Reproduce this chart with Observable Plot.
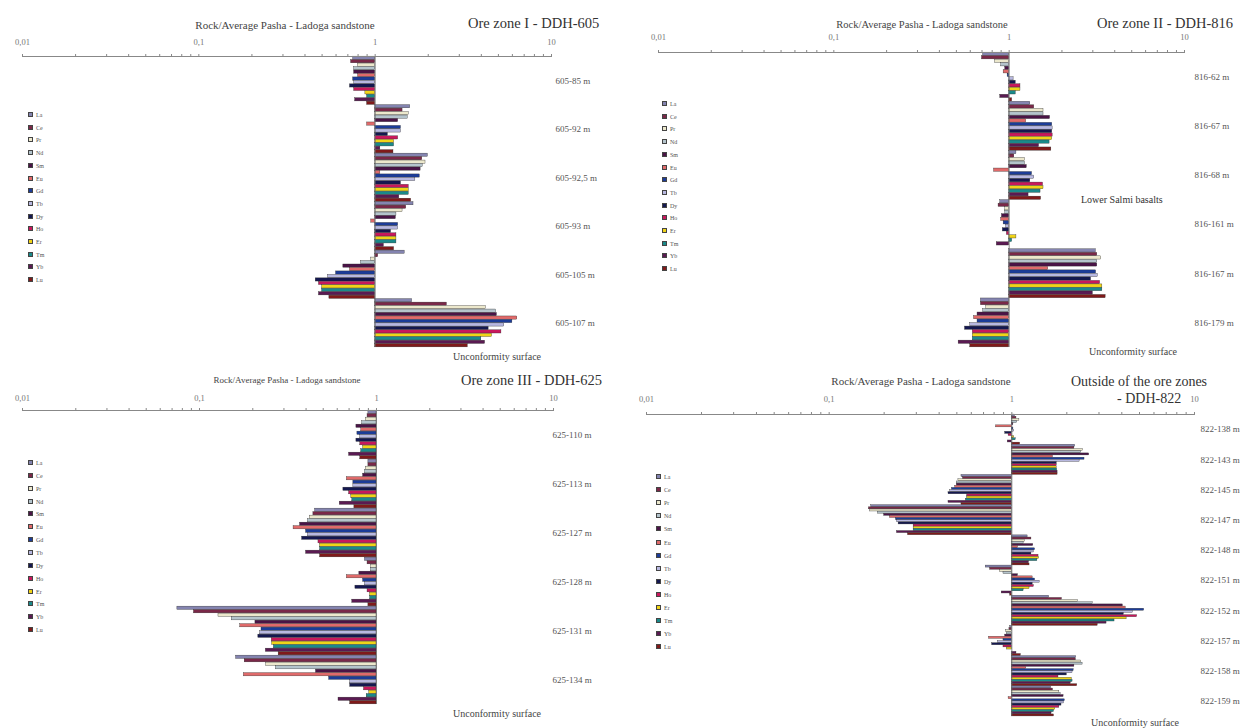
<!DOCTYPE html>
<html><head><meta charset="utf-8">
<script src="https://cdn.jsdelivr.net/npm/d3@7"></script>
<script src="https://cdn.jsdelivr.net/npm/@observablehq/plot@0.6"></script>
<style>
body{margin:0;background:#fff;}
#root{position:relative;width:1241px;height:728px;overflow:hidden;font-family:"Liberation Serif","Times New Roman",serif;color:#333;background:#fff;}
.t{position:absolute;white-space:nowrap;line-height:1;}
.panel{position:absolute;}
.panel svg{max-width:none;display:block;}
.lg{position:absolute;white-space:nowrap;font-size:6px;line-height:6px;color:#555;}
.lg span{display:inline-block;width:5px;height:5px;border:0.5px solid #444;box-sizing:border-box;vertical-align:top;margin-right:3px;}
</style></head><body><div id="root"></div>
<script>
// ---- data ----
const elements = ["La","Ce","Pr","Nd","Sm","Eu","Gd","Tb","Dy","Ho","Er","Tm","Yb","Lu"];
const elementColors = ["#8484b0","#7a2848","#ece8cc","#b4c4cc","#4a1446","#e06a6a","#1c3c98","#b8b8e0","#141850","#c8185c","#f0d418","#1a8a8a","#5a1a52","#801a1a"];
const tickLabels = {0.01:"0,01", 0.1:"0,1", 1:"1", 10:"10"};

const samples605 = ["605-85 m","605-92 m","605-92,5 m","605-93 m","605-105 m","605-107 m"];
const values605 = [
  [0.75,0.73,0.80,0.76,0.76,0.80,0.75,0.76,0.72,0.76,0.88,0.90,0.77,0.90],
  [1.58,1.43,1.55,1.53,1.35,0.90,1.40,1.40,1.18,1.35,1.28,1.28,1.07,1.27],
  [1.99,1.85,1.93,1.86,1.81,1.07,1.79,1.69,1.40,1.55,1.55,1.55,1.37,1.60],
  [1.65,1.50,1.43,1.32,1.31,0.95,1.35,1.35,1.23,1.32,1.32,1.32,1.12,1.28],
  [1.47,1.04,0.95,0.83,0.66,0.72,0.60,0.54,0.46,0.48,0.50,0.50,0.48,0.55],
  [1.62,2.55,4.24,4.85,4.90,6.40,6.00,5.40,4.40,5.20,4.60,4.00,4.20,3.35]
];
const samples816 = ["816-62 m","816-67 m","816-68 m","816-161 m","816-167 m","816-179 m"];
const values816 = [
  [0.71,0.70,0.83,0.90,0.95,0.93,0.98,1.06,1.09,1.16,1.16,1.09,0.89,1.04],
  [1.32,1.39,1.57,1.57,1.71,1.25,1.76,1.77,1.76,1.77,1.76,1.70,1.48,1.74],
  [1.10,1.07,1.23,1.23,1.26,0.82,1.35,1.39,1.32,1.56,1.57,1.51,1.29,1.52],
  [0.89,0.87,0.95,0.95,0.91,0.90,0.93,0.96,0.92,0.97,1.10,1.04,0.85,1.00],
  [3.12,3.18,3.35,3.18,3.18,1.67,3.13,3.20,2.93,3.30,3.40,3.40,3.00,3.55],
  [0.69,0.69,0.74,0.71,0.66,0.63,0.66,0.60,0.56,0.62,0.62,0.62,0.515,0.60]
];
const samples625 = ["625-110 m","625-113 m","625-127 m","625-128 m","625-131 m","625-134 m"];
const values625 = [
  [0.90,0.89,0.87,0.83,0.77,0.82,0.78,0.81,0.77,0.81,0.84,0.82,0.70,0.81],
  [0.90,0.90,0.87,0.86,0.84,0.68,0.74,0.74,0.65,0.70,0.72,0.73,0.62,0.75],
  [0.45,0.44,0.42,0.41,0.37,0.34,0.40,0.41,0.38,0.47,0.48,0.48,0.40,0.48],
  [0.86,0.89,0.93,0.93,0.80,0.68,0.84,0.86,0.76,0.89,0.92,0.92,0.73,0.90],
  [0.075,0.093,0.128,0.152,0.207,0.17,0.224,0.22,0.215,0.256,0.257,0.263,0.237,0.28],
  [0.161,0.18,0.238,0.27,0.455,0.178,0.54,0.71,0.71,0.85,0.91,0.88,0.61,0.71]
];
const samples822 = ["822-138 m","822-143 m","822-145 m","822-147 m","822-148 m","822-151 m","822-152 m","822-157 m","822-158 m","822-159 m"];
const values822 = [
  [1.04,1.06,1.10,1.07,1.02,0.82,1.02,1.03,0.92,0.96,1.03,1.05,0.95,1.11],
  [2.22,2.20,2.45,2.40,2.65,1.68,2.50,2.35,1.76,1.76,1.76,1.77,1.78,1.78],
  [0.53,0.54,0.51,0.50,0.50,0.49,0.47,0.46,0.45,0.57,0.57,0.56,0.45,0.53],
  [0.17,0.165,0.168,0.185,0.20,0.215,0.232,0.235,0.24,0.29,0.29,0.29,0.235,0.27],
  [1.22,1.28,1.18,1.16,1.31,1.08,1.34,1.32,1.28,1.40,1.41,1.38,1.24,1.25],
  [0.72,0.76,0.86,0.90,1.08,1.30,1.34,1.42,1.30,1.32,1.25,1.16,0.88,0.98],
  [1.60,1.88,2.30,2.77,4.05,4.20,5.30,4.60,4.10,4.85,4.25,3.65,3.30,2.95],
  [0.98,0.97,0.93,0.94,0.92,0.75,0.90,0.84,0.78,0.90,0.94,1.00,1.06,1.12],
  [2.25,2.24,2.40,2.44,2.20,1.20,2.18,2.15,2.00,1.80,2.13,2.15,2.10,2.28],
  [1.64,1.68,1.82,1.85,1.92,0.96,1.95,1.93,1.87,1.82,1.73,1.70,1.65,1.70]
];

const subtitleText = "Rock/Average Pasha - Ladoga sandstone";
const bottomText = "Unconformity surface";

// ---- layout ----
const panels = [
  {samples: samples605, values: values605, left:0, top:0, w:620, h:364, mL:22, mR:69, mT:56, mB:17, pad:9, labelDx:4,
   sub:{cx:285, y:20, fs:11}, titles:[{text:"Ore zone I - DDH-605", x:468, y:16, fs:14.5}],
   extra:[], bottom:{x:453, y:352}, legend:{x:28, y:115, sp:12.7}},
  {samples: samples816, values: values816, left:620, top:0, w:621, h:364, mL:38, mR:57, mT:52, mB:17, pad:10, labelDx:10,
   sub:{cx:922, y:20, fs:10.5}, titles:[{text:"Ore zone II - DDH-816", x:1097, y:16, fs:14.5}],
   extra:[{text:"Lower Salmi basalts", x:1081, y:195, fs:10}], bottom:{x:1089, y:347}, legend:{x:662, y:104, sp:12.7}},
  {samples: samples625, values: values625, left:0, top:364, w:620, h:364, mL:22, mR:67, mT:46, mB:24, pad:7, labelDx:-1,
   sub:{cx:287, y:376, fs:9}, titles:[{text:"Ore zone III - DDH-625", x:461, y:373, fs:14.5}],
   extra:[], bottom:{x:453, y:709}, legend:{x:28, y:463, sp:12.85}},
  {samples: samples822, values: values822, left:620, top:364, w:621, h:364, mL:26, mR:47, mT:50, mB:12, pad:10, labelDx:6,
   sub:{cx:921, y:376, fs:11}, titles:[{text:"Outside of the ore zones", x:1071, y:375, fs:14}, {text:"- DDH-822", x:1117, y:392, fs:14}],
   extra:[], bottom:{x:1091, y:718}, legend:{x:656, y:477, sp:13.1}}
];

const root = document.getElementById("root");
const minorTicks = [];
for (const d of [0.01, 0.1, 1]) for (let k = 1; k < 10; k++) minorTicks.push(+(d * k).toPrecision(2));
minorTicks.push(10);

function addText(text, x, y, fs, extraStyle) {
  const div = document.createElement("div");
  div.className = "t";
  div.textContent = text;
  div.style.left = x + "px";
  div.style.top = y + "px";
  div.style.fontSize = fs + "px";
  if (extraStyle) Object.assign(div.style, extraStyle);
  root.appendChild(div);
  return div;
}

for (const p of panels) {
  const n = p.samples.length * elements.length;
  const rows = [];
  p.samples.forEach((s, g) => p.values[g].forEach((v, e) => rows.push({sample: s, e, v, idx: g * elements.length + e})));
  const svg = Plot.plot({
    width: p.w, height: p.h,
    marginLeft: p.mL, marginRight: p.mR, marginTop: p.mT, marginBottom: p.mB,
    style: {fontFamily: "Liberation Serif, Times New Roman, serif", fontSize: "8px", color: "#777", background: "transparent"},
    x: {type: "log", domain: [0.01, 10]},
    y: {domain: [0, n], reverse: true, axis: null},
    marks: [
      Plot.rect(rows, {
        x1: () => 1, x2: "v",
        y1: d => d.idx + 0.04, y2: d => d.idx + 0.96,
        fill: d => elementColors[d.e], stroke: "#2a2a2a", strokeWidth: 0.35
      }),
      Plot.ruleX([1], {y1: 0, y2: n, stroke: "#666", strokeWidth: 0.8}),
      Plot.ruleY([0], {stroke: "#888", strokeWidth: 1}),
      Plot.axisX({anchor: "top", ticks: minorTicks, tickSize: 3, tickPadding: p.pad, label: null,
        tickFormat: d => tickLabels[d] ?? "", stroke: "#888", fill: "#777", fontSize: 8.5}),
      Plot.text(p.samples, {y: (d, i) => i * elements.length + elements.length / 2, text: d => d,
        frameAnchor: "right", textAnchor: "start", dx: p.labelDx, fontSize: 9, fill: "#555"})
    ]
  });
  const holder = document.createElement("div");
  holder.className = "panel";
  holder.style.left = p.left + "px";
  holder.style.top = p.top + "px";
  holder.style.width = p.w + "px";
  holder.style.height = p.h + "px";
  holder.appendChild(svg);
  root.appendChild(holder);

  addText(subtitleText, p.sub.cx, p.sub.y, p.sub.fs, {transform: "translateX(-50%)", color: "#444"});
  for (const t of p.titles) addText(t.text, t.x, t.y, t.fs, {color: "#333"});
  for (const t of p.extra) addText(t.text, t.x, t.y, t.fs, {color: "#333"});
  addText(bottomText, p.bottom.x, p.bottom.y, 10, {color: "#444"});

  elements.forEach((el, i) => {
    const d = document.createElement("div");
    d.className = "lg";
    d.style.left = p.legend.x + "px";
    d.style.top = (p.legend.y + i * p.legend.sp - 3) + "px";
    const sq = document.createElement("span");
    sq.style.background = elementColors[i];
    d.appendChild(sq);
    d.appendChild(document.createTextNode(el));
    root.appendChild(d);
  });
}
</script>
</body></html>
